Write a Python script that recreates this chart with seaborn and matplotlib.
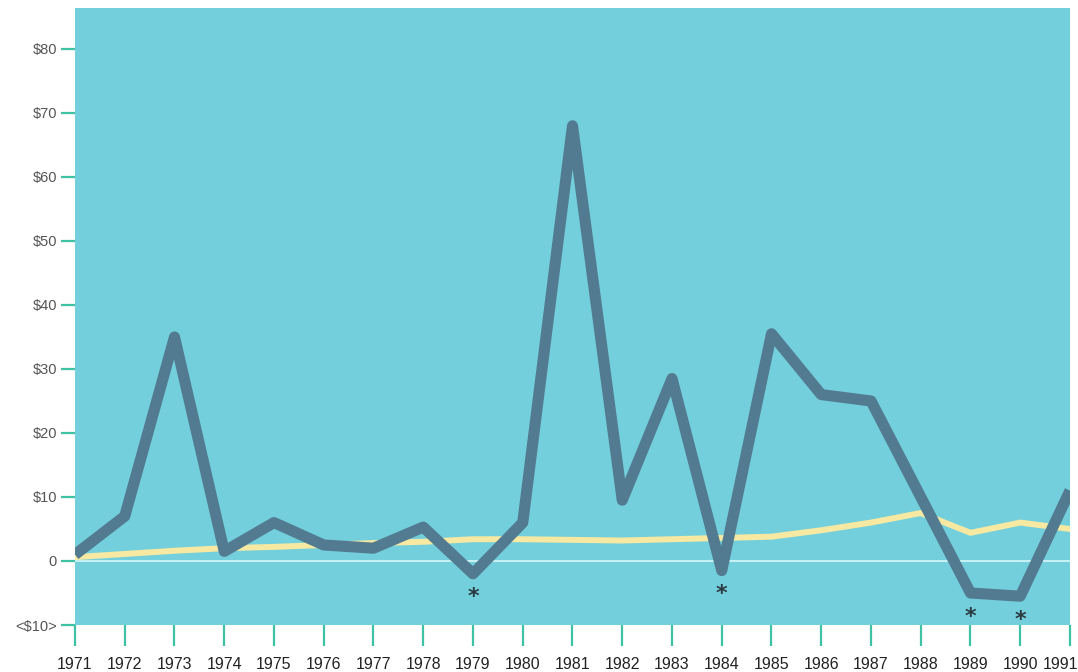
import matplotlib
matplotlib.use("Agg")
import matplotlib.pyplot as plt
import matplotlib.transforms as mtransforms
import seaborn as sns
import pandas as pd

# Annual values (dollars)
years = list(range(1971, 1992))
dark_series = [1, 7, 35, 1.5, 6, 2.5, 2, 5.3, -2, 6, 68, 9.5, 28.5, -1.5,
               35.5, 26, 25, 10, -5, -5.5, 11]
yellow_series = [0.6, 1.1, 1.6, 2.0, 2.2, 2.5, 2.8, 3.0, 3.4, 3.4, 3.3, 3.2,
                 3.4, 3.6, 3.8, 4.8, 6.0, 7.5, 4.4, 6.0, 5.0]
flagged_years = [1979, 1984, 1989, 1990]
y_ticks = [-10, 0, 10, 20, 30, 40, 50, 60, 70, 80]
y_tick_labels = ["<\\$10>", "0", "\\$10", "\\$20", "\\$30", "\\$40", "\\$50",
                 "\\$60", "\\$70", "\\$80"]

sns.set_theme(style="white")
plt.rcParams["font.family"] = ["Liberation Sans", "DejaVu Sans"]

bg = "#73cfdb"
dark = "#527b92"
yellow = "#f7e9a2"
tick_green = "#3fc2a4"

df = pd.DataFrame({"year": years, "dark": dark_series, "yellow": yellow_series})

fig = plt.figure(figsize=(10.78, 6.72), dpi=100)
ax = fig.add_axes([75 / 1078, 47 / 672, 995 / 1078, 617 / 672])
ax.set_facecolor(bg)

ax.axhline(0, color="#c9f1f2", lw=1.4, zorder=1)
sns.lineplot(data=df, x="year", y="yellow", ax=ax, color=yellow, lw=4.3,
             zorder=2)
sns.lineplot(data=df, x="year", y="dark", ax=ax, color=dark, lw=8,
             zorder=3, solid_joinstyle="round", solid_capstyle="butt")

for yr in flagged_years:
    val = dark_series[years.index(yr)]
    ax.annotate("*", xy=(yr, val), xytext=(0, -17), textcoords="offset points",
                ha="center", va="center", fontsize=16, fontweight="bold",
                color="#2b3a40", family="DejaVu Sans")

ax.set_xlim(1971, 1991)
ax.set_ylim(-10, 86.4)
ax.set_xticks(years)
ax.set_xticklabels([str(y) for y in years], fontsize=11.5, color="#222222")
ax.set_yticks(y_ticks)
ax.set_yticklabels(y_tick_labels, fontsize=10.5, color="#555555")
ax.tick_params(axis="x", direction="out", length=15, width=1.6,
               color=tick_green, pad=8, bottom=True)
ax.tick_params(axis="y", direction="out", length=10, width=1.6,
               color=tick_green, pad=3, left=True)
ax.set_xlabel("")
ax.set_ylabel("")
for s in ax.spines.values():
    s.set_visible(False)

# keep the final year label inside the figure
last = ax.get_xticklabels()[-1]
last.set_horizontalalignment("right")
last.set_transform(last.get_transform() +
                   mtransforms.ScaledTranslation(8 / 100, 0, fig.dpi_scale_trans))

fig.savefig("out.png", dpi=100, facecolor="white")
